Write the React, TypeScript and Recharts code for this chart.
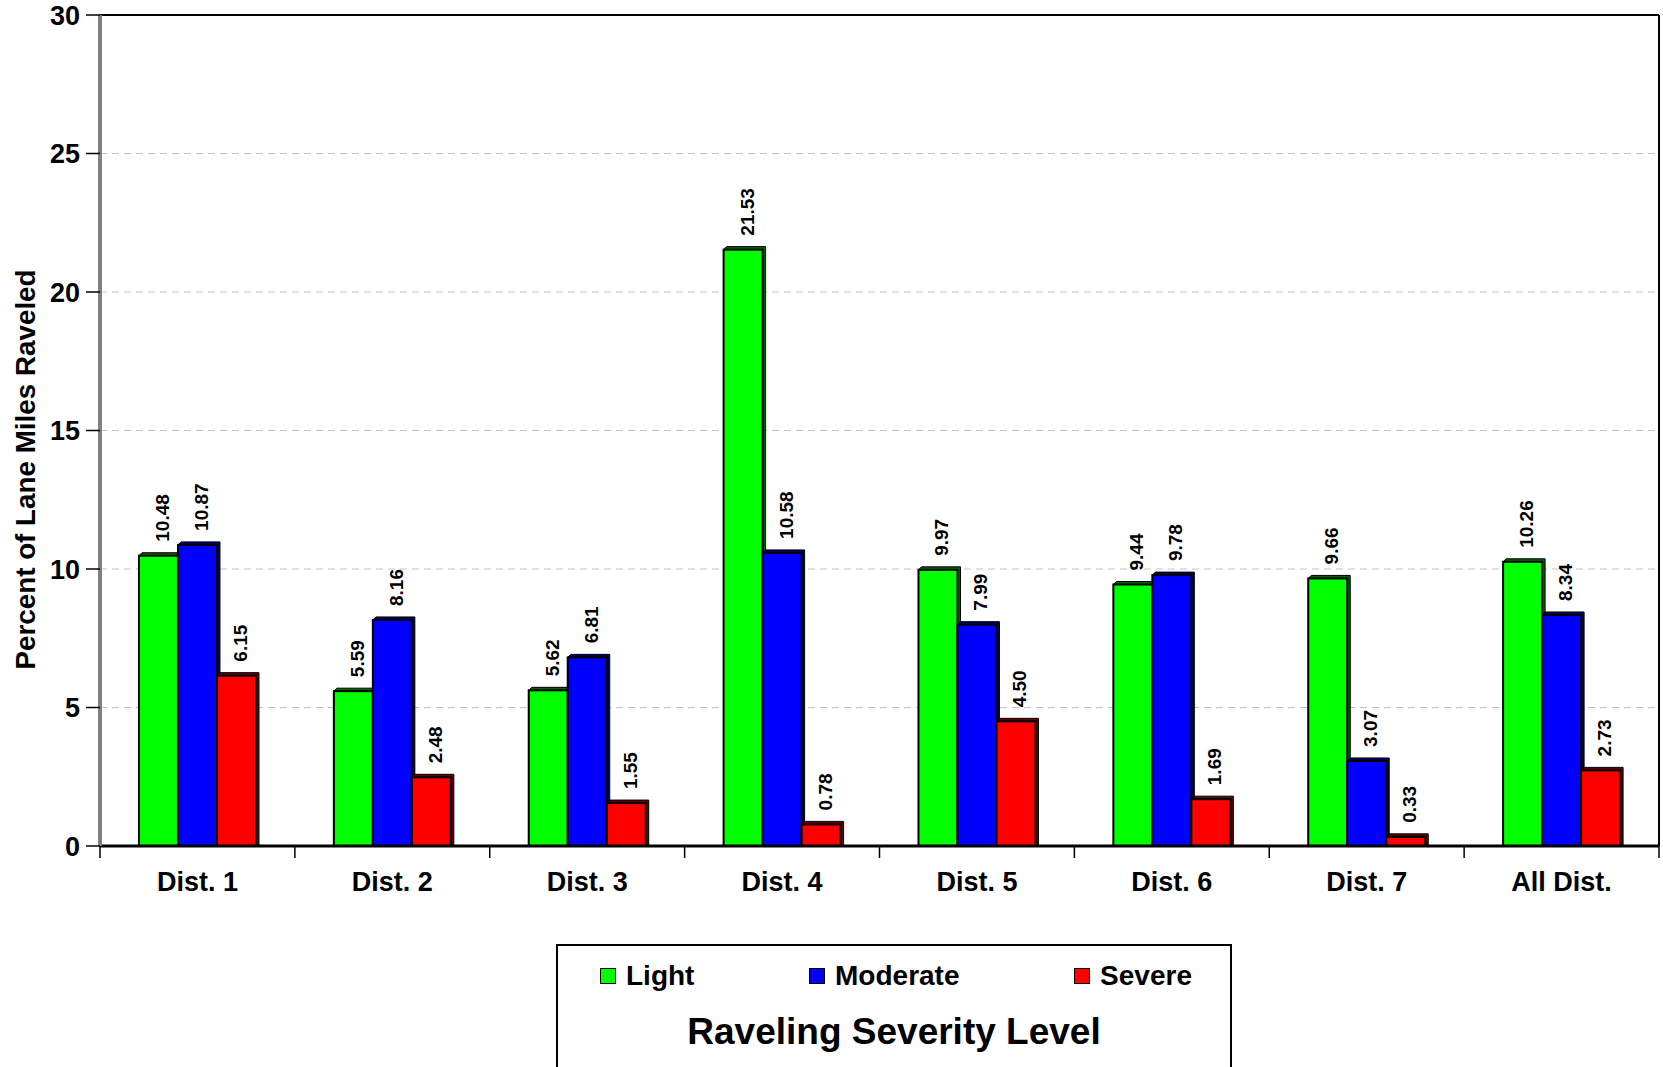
import React from 'react';
import { BarChart, Bar, XAxis, YAxis, CartesianGrid, ReferenceLine, LabelList } from 'recharts';

const categories = ['Dist. 1', 'Dist. 2', 'Dist. 3', 'Dist. 4', 'Dist. 5', 'Dist. 6', 'Dist. 7', 'All Dist.'];
const lightValues = [10.48, 5.59, 5.62, 21.53, 9.97, 9.44, 9.66, 10.26];
const moderateValues = [10.87, 8.16, 6.81, 10.58, 7.99, 9.78, 3.07, 8.34];
const severeValues = [6.15, 2.48, 1.55, 0.78, 4.5, 1.69, 0.33, 2.73];
const yTicks = [0, 5, 10, 15, 20, 25, 30];

const seriesNames = ['Light', 'Moderate', 'Severe'];
const seriesKeys = ['light', 'moderate', 'severe'];
const seriesColors = ['#00ff00', '#0000ff', '#ff0000'];
const seriesDark = ['#006400', '#000064', '#640000'];

const data = categories.map((c, i) => ({
  name: c,
  light: lightValues[i],
  moderate: moderateValues[i],
  severe: severeValues[i],
}));

const FONT = '"Liberation Sans", Arial, Helvetica, sans-serif';
const DEPTH = 3;

const make3DShape = (color: string, dark: string) => (props: any) => {
  const { x, y, width, height } = props;
  if (width == null || height == null) return null;
  const d = DEPTH;
  const bottom = y + height;
  return (
    <g>
      <polygon
        points={`${x},${y} ${x + d},${y - d} ${x + width + d},${y - d} ${x + width + d},${bottom} ${x + width},${bottom} ${x + width},${y}`}
        fill={dark}
        stroke="#000"
        strokeWidth={1}
      />
      <rect x={x} y={y} width={width} height={height} fill={color} stroke="#000" strokeWidth={2} />
    </g>
  );
};

const valueLabel = (props: any) => {
  const { x, y, width, value } = props;
  const cx = x + width / 2 + 4;
  const cy = y - 14;
  return (
    <text
      x={cx}
      y={cy}
      transform={`rotate(-90, ${cx}, ${cy})`}
      textAnchor="start"
      dominantBaseline="central"
      fontFamily={FONT}
      fontWeight="bold"
      fontSize={19}
      fill="#000"
    >
      {Number(value).toFixed(2)}
    </text>
  );
};

const XTick = (props: any) => {
  const { x, y, payload, index, visibleTicksCount } = props;
  const off = payload.offset || 0;
  const axisY = y - 8;
  return (
    <g>
      <line x1={x - off} y1={axisY} x2={x - off} y2={axisY + 12} stroke="#000" strokeWidth={1.5} />
      {index === visibleTicksCount - 1 && (
        <line x1={x + off} y1={axisY} x2={x + off} y2={axisY + 12} stroke="#000" strokeWidth={1.5} />
      )}
      <text
        x={x}
        y={y + 37}
        textAnchor="middle"
        fontFamily={FONT}
        fontWeight="bold"
        fontSize={27}
        fill="#000"
      >
        {payload.value}
      </text>
    </g>
  );
};

const YLabel = (props: any) => {
  const { viewBox } = props;
  const cx = 25;
  const cy = viewBox.y + viewBox.height / 2 + 39;
  return (
    <text
      x={cx}
      y={cy}
      transform={`rotate(-90, ${cx}, ${cy})`}
      textAnchor="middle"
      dominantBaseline="central"
      fontFamily={FONT}
      fontWeight="bold"
      fontSize={27.8}
      fill="#000"
    >
      Percent of Lane Miles Raveled
    </text>
  );
};

export default function App() {
  return (
    <div style={{ position: 'absolute', left: 0, top: 0, width: 1663, height: 1067, background: '#fff', overflow: 'hidden' }}>
      <BarChart
        width={1663}
        height={1067}
        data={data}
        margin={{ top: 15, right: 3, left: 0, bottom: 161 }}
        barCategoryGap="20%"
        barGap={0}
      >
        <CartesianGrid vertical={false} stroke="#c4c4c4" strokeDasharray="7 5" yAxisId="left" />
        <XAxis
          dataKey="name"
          height={60}
          axisLine={{ stroke: '#000', strokeWidth: 3 }}
          tickLine={false}
          tick={<XTick />}
          interval={0}
        />
        <YAxis
          yAxisId="left"
          width={100}
          domain={[0, 30]}
          ticks={yTicks}
          interval={0}
          axisLine={{ stroke: '#808080', strokeWidth: 4 }}
          tickLine={{ stroke: '#000', strokeWidth: 1.5 }}
          tickSize={14}
          tickMargin={6}
          tick={{ fontFamily: FONT, fontWeight: 'bold', fontSize: 27, fill: '#000' }}
          label={<YLabel />}
        />
        <YAxis
          yAxisId="right"
          orientation="right"
          width={1}
          domain={[0, 30]}
          tick={false}
          tickLine={false}
          axisLine={{ stroke: '#000', strokeWidth: 2 }}
        />
        <ReferenceLine yAxisId="left" y={30} stroke="#000" strokeWidth={2} />
        {seriesKeys.map((k, i) => (
          <Bar
            key={k}
            dataKey={k}
            name={seriesNames[i]}
            yAxisId="left"
            fill={seriesColors[i]}
            isAnimationActive={false}
            shape={make3DShape(seriesColors[i], seriesDark[i])}
          >
            <LabelList dataKey={k} content={valueLabel} />
          </Bar>
        ))}
      </BarChart>
      <div
        style={{
          position: 'absolute',
          left: 556,
          top: 944,
          width: 672,
          height: 140,
          border: '2px solid #000',
          background: '#fff',
          fontFamily: FONT,
          fontWeight: 'bold',
          color: '#000',
        }}
      >
        <div
          style={{
            position: 'absolute',
            left: 42,
            right: 38,
            top: 14,
            display: 'flex',
            justifyContent: 'space-between',
            alignItems: 'center',
            fontSize: 28,
            lineHeight: '32px',
          }}
        >
          {seriesNames.map((n, i) => (
            <div key={n} style={{ display: 'flex', alignItems: 'center' }}>
              <span
                style={{
                  display: 'inline-block',
                  width: 14,
                  height: 14,
                  background: seriesColors[i],
                  border: '1.5px solid #000',
                  marginRight: 10,
                }}
              />
              <span>{n}</span>
            </div>
          ))}
        </div>
        <div
          style={{
            position: 'absolute',
            left: 0,
            right: 0,
            top: 64,
            textAlign: 'center',
            fontSize: 37,
            lineHeight: '44px',
          }}
        >
          Raveling Severity Level
        </div>
      </div>
    </div>
  );
}
